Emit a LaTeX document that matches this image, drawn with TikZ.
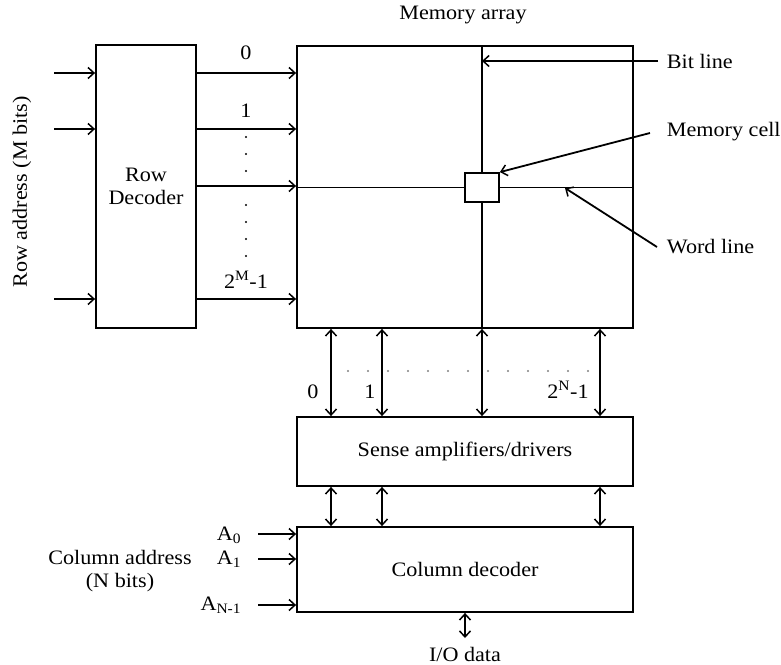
\documentclass[tikz,border=0pt]{standalone}
\usepackage{fontspec}
\setmainfont{Liberation Serif}[FakeStretch=1.08]
\usetikzlibrary{arrows.meta,calc}
\begin{document}
\begin{tikzpicture}[x=1pt,y=-1pt,line width=1.8pt,
  font=\fontsize{20.5}{23}\selectfont,
  box/.style={draw,rectangle,inner sep=0pt,align=center},
  tipa/.tip={Straight Barb[length=6pt,width=11pt,line width=1.5pt]},
  arr/.style={-tipa},
  darr/.style={tipa-tipa},
  lbl/.style={inner sep=0pt,align=center}]
\useasboundingbox (0,0) rectangle (781,664);
% boxes
\node[box,minimum width=100pt,minimum height=283pt] (rd) at (146,186.5) {Row\\Decoder};
\node[box,minimum width=336pt,minimum height=282pt] (ma) at (465,187) {};
\node[box,minimum width=336pt,minimum height=69pt] (sa) at (465,451.5) {Sense amplifiers/drivers};
\node[box,minimum width=336pt,minimum height=85pt] (cd) at (465,569.5) {Column decoder};
\node[lbl] (matitle) at (463,15) {Memory array};
% memory cell and lines
\node[box,fill=white,minimum width=34pt,minimum height=29pt] (cell) at (482,187.5) {};
\draw (ma.north -| cell) -- (cell.north);
\draw (cell.south) -- (ma.south -| cell);
\draw (ma.west |- cell) -- (cell.west);
\draw (cell.east) -- (ma.east |- cell);
% row address
\node[lbl,rotate=90] (ra) at (22,192) {Row address (M bits)};
\foreach \i/\y in {0/73,1/129,2/299}{
  \coordinate (ri\i) at (54,\y);
  \draw[arr] (ri\i) -- (ri\i -| rd.west);
}
\foreach \i/\y in {0/73,1/129,2/186,3/299}{
  \coordinate (ro\i) at (196,\y);
  \draw[arr] (ro\i -| rd.east) -- (ro\i -| ma.west);
}
\node[lbl] (l0) at (246,53) {0};
\node[lbl] (l1) at (246,111) {1};
\node[lbl] (lm) at (246,280) {2\textsuperscript{M}-1};
\foreach \y in {137,154,171,205,222,239,256}
  \fill (246,\y) circle (1.2pt);
% right labels
\node[lbl,anchor=west] (bl) at (666,61) {Bit line};
\node[lbl,anchor=west] (mc) at (666,132) {Memory cell};
\node[lbl,anchor=west] (wlab) at (666,247) {Word line};
\draw[arr] ([xshift=-8pt]bl.west) -- (bl.west -| cell);
\draw[arr] ([xshift=-16pt,yshift=-1pt]mc.west) -- (cell.north east);
\coordinate (wl) at (565,188);
\draw[arr] ([xshift=-9pt]wlab.west) -- (wl);
% bit line connections
\foreach \i/\x in {0/331,1/382,2/482,3/600}{
  \coordinate (b\i) at (\x,0);
  \draw[darr] (b\i |- ma.south) -- (b\i |- sa.north);
}
\foreach \x in {348,368,...,592}
  \fill[gray] (\x,371) circle (1.1pt);
\node[lbl] (n0) at (313,392) {0};
\node[lbl] (n1) at (370,392) {1};
\node[lbl] (nn) at (568,390) {2\textsuperscript{N}-1};
% sense amp to column decoder
\foreach \i in {0,1,3}
  \draw[darr] (b\i |- sa.south) -- (b\i |- cd.north);
% column address
\node[lbl] (ca) at (120,571.5) {Column address\\(N bits)};
\node[lbl,anchor=east] (a0) at (242,535) {A\textsubscript{0}};
\node[lbl,anchor=east] (a1) at (242,559) {A\textsubscript{1}};
\node[lbl,anchor=east] (an) at (242,605) {A\textsubscript{N-1}};
\foreach \i/\y in {0/534,1/559,2/605}{
  \coordinate (ci\i) at (258,\y);
  \draw[arr] (ci\i) -- (ci\i -| cd.west);
}
% I/O
\node[lbl] (io) at (465,654) {I/O data};
\coordinate (iotop) at (465,638);
\draw[darr] (cd.south) -- (iotop);
\end{tikzpicture}
\end{document}
